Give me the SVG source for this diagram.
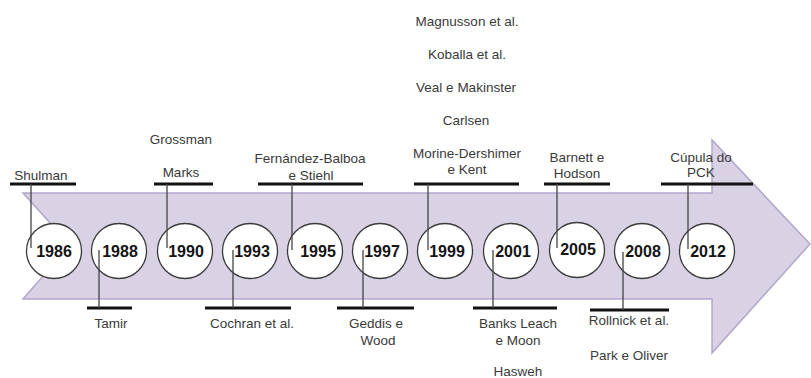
<svg xmlns="http://www.w3.org/2000/svg" width="811" height="378" viewBox="0 0 811 378">
  <style>
    .lbl { font-family: "Liberation Sans", Arial, sans-serif; font-size: 13.5px; fill: #3a3a3a; text-anchor: middle; }
    .yr { font-family: "Liberation Sans", Arial, sans-serif; font-size: 16px; font-weight: bold; fill: #151515; text-anchor: middle; }
    .disc { fill: #ffffff; stroke: #3a3a3a; stroke-width: 1.3; }
    .bar { stroke: #111111; stroke-width: 3; fill: none; }
    .lead { stroke: #444444; stroke-width: 1.3; fill: none; }
  </style>

  <!-- timeline arrow band -->
  <g id="arrow">
    <polygon points="23,193 712,193 712,140 810,244 712,353 712,299 23,299 70,245"
             fill="#d8d2e4" stroke="#b2a6cb" stroke-width="1.5" stroke-linejoin="miter"/>
  </g>

  <!-- year nodes -->
  <g id="y1986"><circle class="disc" cx="54" cy="251" r="27.5"/><text class="yr" x="54" y="257">1986</text></g>
  <g id="y1988"><circle class="disc" cx="119" cy="251" r="27.5"/><text class="yr" x="120" y="257">1988</text></g>
  <g id="y1990"><circle class="disc" cx="185" cy="251" r="27.5"/><text class="yr" x="186" y="257">1990</text></g>
  <g id="y1993"><circle class="disc" cx="250" cy="251" r="27.5"/><text class="yr" x="252" y="257">1993</text></g>
  <g id="y1995"><circle class="disc" cx="315" cy="251" r="27.5"/><text class="yr" x="318" y="257">1995</text></g>
  <g id="y1997"><circle class="disc" cx="380" cy="251" r="27.5"/><text class="yr" x="382" y="257">1997</text></g>
  <g id="y1999"><circle class="disc" cx="445" cy="251" r="27.5"/><text class="yr" x="447" y="257">1999</text></g>
  <g id="y2001"><circle class="disc" cx="511" cy="251" r="27.5"/><text class="yr" x="513" y="257">2001</text></g>
  <g id="y2005"><circle class="disc" cx="577" cy="250" r="27.5"/><text class="yr" x="578" y="255">2005</text></g>
  <g id="y2008"><circle class="disc" cx="642" cy="251" r="27.5"/><text class="yr" x="643" y="257">2008</text></g>
  <g id="y2012"><circle class="disc" cx="707" cy="251" r="27.5"/><text class="yr" x="708" y="257">2012</text></g>

  <!-- author labels above the band -->
  <g id="lbl-shulman"><line class="bar" x1="10" y1="184" x2="76" y2="184"/><text class="lbl" x="41" y="180">Shulman</text></g>
  <g id="lbl-marks">
    <line class="bar" x1="154" y1="184" x2="213" y2="184"/>
    <text class="lbl" x="181" y="144">Grossman</text>
    <text class="lbl" x="181" y="177">Marks</text>
  </g>
  <g id="lbl-fernandez">
    <line class="bar" x1="258" y1="184" x2="363" y2="184"/>
    <text class="lbl" x="310" y="163">Fernández-Balboa</text>
    <text class="lbl" x="311" y="180">e Stiehl</text>
  </g>
  <g id="lbl-morine">
    <line class="bar" x1="414" y1="184" x2="519" y2="184"/>
    <text class="lbl" x="467" y="26">Magnusson et al.</text>
    <text class="lbl" x="467" y="59">Koballa et al.</text>
    <text class="lbl" x="466" y="92">Veal e Makinster</text>
    <text class="lbl" x="466" y="125">Carlsen</text>
    <text class="lbl" x="467" y="158">Morine-Dershimer</text>
    <text class="lbl" x="467" y="174">e Kent</text>
  </g>
  <g id="lbl-barnett">
    <line class="bar" x1="544" y1="184" x2="610" y2="184"/>
    <text class="lbl" x="577" y="162">Barnett e</text>
    <text class="lbl" x="577" y="178">Hodson</text>
  </g>
  <g id="lbl-cupula">
    <line class="bar" x1="661" y1="184" x2="753" y2="184"/>
    <text class="lbl" x="701" y="162">Cúpula do</text>
    <text class="lbl" x="701" y="177">PCK</text>
  </g>

  <!-- author labels below the band -->
  <g id="lbl-tamir"><line class="bar" x1="87" y1="308" x2="132" y2="308"/><text class="lbl" x="111" y="328">Tamir</text></g>
  <g id="lbl-cochran"><line class="bar" x1="205" y1="308" x2="291" y2="308"/><text class="lbl" x="252" y="328">Cochran et al.</text></g>
  <g id="lbl-geddis">
    <line class="bar" x1="337" y1="308" x2="414" y2="308"/>
    <text class="lbl" x="376" y="328">Geddis e</text>
    <text class="lbl" x="378" y="345">Wood</text>
  </g>
  <g id="lbl-banks">
    <line class="bar" x1="473" y1="308" x2="557" y2="308"/>
    <text class="lbl" x="518" y="328">Banks Leach</text>
    <text class="lbl" x="518" y="345">e Moon</text>
    <text class="lbl" x="518" y="376">Hasweh</text>
  </g>
  <g id="lbl-rollnick">
    <line class="bar" x1="590" y1="310" x2="669" y2="310"/>
    <text class="lbl" x="629" y="325">Rollnick et al.</text>
    <text class="lbl" x="629" y="360">Park e Oliver</text>
  </g>

  <!-- leader lines from label bars into the year discs -->
  <g id="connectors">
    <line class="lead" x1="31" y1="184" x2="31" y2="248"/>
    <line class="lead" x1="167" y1="184" x2="167" y2="248"/>
    <line class="lead" x1="292" y1="184" x2="292" y2="250"/>
    <line class="lead" x1="428" y1="184" x2="428" y2="250"/>
    <line class="lead" x1="557" y1="184" x2="557" y2="248"/>
    <line class="lead" x1="688" y1="184" x2="688" y2="249"/>
    <line class="lead" x1="99" y1="250" x2="99" y2="308"/>
    <line class="lead" x1="233" y1="250" x2="233" y2="308"/>
    <line class="lead" x1="363" y1="250" x2="363" y2="308"/>
    <line class="lead" x1="493" y1="250" x2="493" y2="308"/>
    <line class="lead" x1="623" y1="252" x2="623" y2="310"/>
  </g>
</svg>
